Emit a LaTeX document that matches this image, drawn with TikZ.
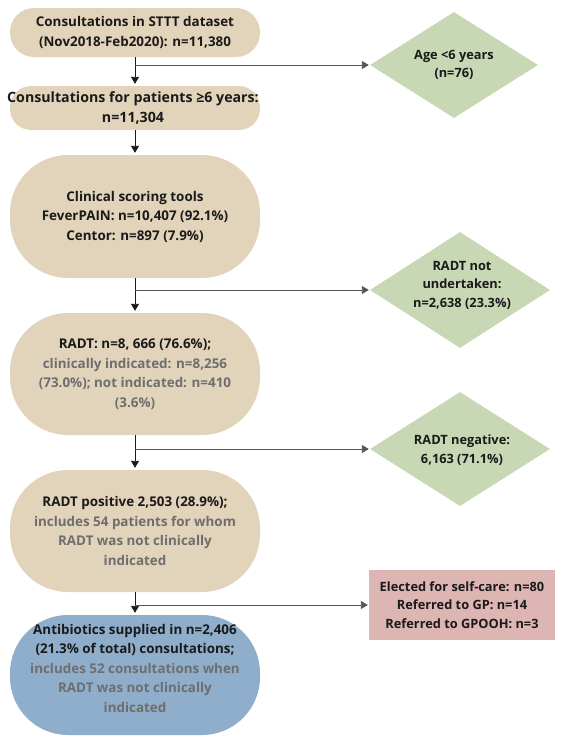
\documentclass[tikz,border=0pt]{standalone}
\usepackage{fontspec}
\setmainfont{Open Sans}
\usetikzlibrary{shapes.geometric,arrows.meta}
\definecolor{tan}{HTML}{E2D4BA}
\definecolor{sage}{HTML}{C8D8B4}
\definecolor{rose}{HTML}{DDB6B4}
\definecolor{steel}{HTML}{8FAECB}
\definecolor{ink}{HTML}{1A1A1A}
\definecolor{soft}{HTML}{6E6E6E}
\definecolor{wire}{HTML}{555555}
\tikzset{
  x=1pt, y=-1pt,
  txt/.style={font=\fontsize{13.4}{19.5}\selectfont\bfseries, text=ink, align=center, inner sep=0pt},
  gtxt/.style={txt, font=\fontsize{12.8}{18.5}\selectfont\bfseries},
  pill/.style={draw=none, fill=tan, minimum width=250pt, inner sep=0pt},
  gem/.style={diamond, draw=none, fill=sage, inner sep=0pt},
  tip/.style={-{Triangle[width=8pt,length=7pt]}, draw=ink, line width=0.9pt, shorten >=2pt},
  side/.style={-{Triangle[width=8pt,length=7pt]}, draw=wire, line width=0.9pt, shorten >=1pt}
}
\begin{document}
\begin{tikzpicture}
\useasboundingbox (0,0) rectangle (565,737);
% main column
\node[pill, minimum height=49pt, rounded corners=24pt] (b1) at (135,32.5) {};
\node[txt] (t1) at (b1.center) {Consultations in STTT dataset\\(Nov2018-Feb2020): n=11,380};
\node[pill, minimum height=44pt, rounded corners=21pt] (b2) at (135,108) {};
\node[txt, font=\fontsize{14.2}{19.5}\selectfont\bfseries] (t2) at (133,108) {Consultations for patients ≥6 years:\\n=11,304};
\node[pill, minimum height=123pt, rounded corners=58pt] (b3) at (135,216.5) {};
\node[txt] (t3) at (b3.center) {Clinical scoring tools\\FeverPAIN: n=10,407 (92.1\%)\\Centor: n=897 (7.9\%)};
\node[pill, minimum height=122pt, rounded corners=58pt] (b4) at (135,374) {};
\node[txt] (t4) at (b4.center) {RADT: n=8, 666 (76.6\%);\\\textcolor{soft}{clinically indicated: n=8,256}\\\textcolor{soft}{(73.0\%); not indicated: n=410}\\\textcolor{soft}{(3.6\%)}};
\node[pill, minimum height=122pt, rounded corners=58pt] (b5) at (135,531) {};
\node[txt] (t5) at (b5.center) {RADT positive 2,503 (28.9\%);\\\textcolor{soft}{includes 54 patients for whom}\\\textcolor{soft}{RADT was not clinically}\\\textcolor{soft}{indicated}};
\node[pill, fill=steel, minimum height=120pt, rounded corners=58pt] (b6) at (135,675) {};
\node[txt] (t6) at (135,668) {Antibiotics supplied in n=2,406\\(21.3\% of total) consultations;\\\textcolor{soft}{includes 52 consultations when}\\\textcolor{soft}{RADT was not clinically}\\\textcolor{soft}{indicated}};
% side shapes
\node[gem, minimum width=168pt, minimum height=106pt] (d1) at (454,65) {};
\node[gtxt] (u1) at (d1.center) {Age <6 years\\(n=76)};
\node[gem, minimum width=180pt, minimum height=116pt] (d2) at (460,290) {};
\node[gtxt] (u2) at (462,285) {RADT not\\undertaken:\\n=2,638 (23.3\%)};
\node[gem, minimum width=180pt, minimum height=114pt] (d3) at (460,449) {};
\node[gtxt] (u3) at (462,450) {RADT negative:\\6,163 (71.1\%)};
\node[draw=none, fill=rose, minimum width=186pt, minimum height=70pt, inner sep=0pt] (p1) at (462,605) {};
\node[gtxt] (u4) at (p1.center) {Elected for self-care: n=80\\Referred to GP: n=14\\Referred to GPOOH: n=3};
% connectors
\coordinate (j1) at (b1.south |- d1.west);
\coordinate (j2) at (b3.south |- d2.west);
\coordinate (j3) at (b4.south |- d3.west);
\coordinate (j4) at (b5.south |- p1.west);
\draw[tip] (b1.south) -- (b2.north);
\draw[tip] (b2.south) -- (b3.north);
\draw[tip] (b3.south) -- (b4.north);
\draw[tip] (b4.south) -- (b5.north);
\draw[tip] (b5.south) -- (b6.north);
\draw[side] (j1) -- (d1.west);
\draw[side] (j2) -- (d2.west);
\draw[side] (j3) -- (d3.west);
\draw[side] (j4) -- (p1.west);
\end{tikzpicture}
\end{document}
